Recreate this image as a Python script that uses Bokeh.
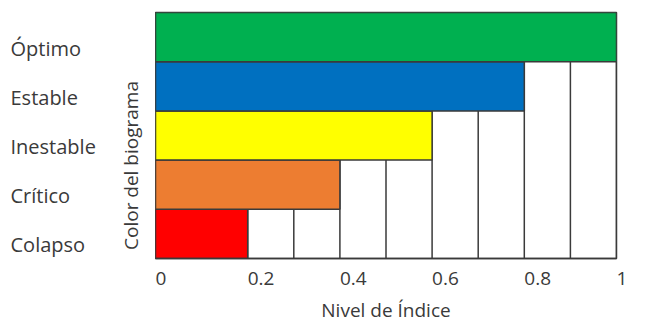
import math
from bokeh.plotting import figure
from bokeh.layouts import row
from bokeh.models import ColumnDataSource, Range1d, FixedTicker
from bokeh.core.properties import value
from bokeh.embed import file_html
from bokeh.resources import INLINE

# ---- data ----
categories = ["Colapso", "Crítico", "Inestable", "Estable", "Óptimo"]
levels = [0.2, 0.4, 0.6, 0.8, 1.0]
colors = ["#FF0000", "#ED7D31", "#FFFF00", "#0070C0", "#00B050"]
tick_values = [0, 0.2, 0.4, 0.6, 0.8, 1.0]
tick_labels = ["0", "0.2", "0.4", "0.6", "0.8", "1"]
cell_step = 0.1
x_title = "Nivel de Índice"
y_title = "Color del biograma"

FONT = "Open Sans"
TXT = "#3a3a3a"
EDGE = "#3a3a3a"
FRAME_H = 246
TOP = 12
BOTTOM = 51
LEFT_W = 155

# ---- main plot ----
p = figure(frame_width=461, frame_height=FRAME_H, output_backend="svg", toolbar_location=None,
           x_range=Range1d(0, 1), y_range=Range1d(0, len(categories)),
           y_axis_location=None,
           min_border_left=0, min_border_right=14, min_border_top=TOP, min_border_bottom=BOTTOM)
p.xgrid.visible = False
p.ygrid.visible = False
p.outline_line_color = EDGE
p.outline_line_width = 1.5

ax = p.xaxis[0]
ax.ticker = FixedTicker(ticks=tick_values)
ax.major_label_overrides = {v: t for v, t in zip(tick_values, tick_labels)}
ax.major_label_orientation = -1e-4
ax.major_tick_out = 0
ax.major_tick_in = 0
ax.minor_tick_out = 0
ax.minor_tick_in = 0
ax.axis_line_color = EDGE
ax.axis_line_width = 1.5
ax.major_label_standoff = 20
ax.major_label_text_font = FONT
ax.major_label_text_font_size = "19px"
ax.major_label_text_color = TXT
ax.axis_label = x_title
ax.axis_label_standoff = 2
ax.axis_label_text_font = FONT
ax.axis_label_text_font_size = "19px"
ax.axis_label_text_font_style = "normal"
ax.axis_label_text_color = TXT

# white cells: vertical lines at each 0.1 boundary, from the bottom up to the first bar covering it
n_cells = int(round(1.0 / cell_step))
sx, sy0, sy1 = [], [], []
for k in range(1, n_cells + 1):
    xb = round(k * cell_step, 6)
    top = len(categories)
    for i, lv in enumerate(levels):
        if lv > xb + 1e-9:
            top = i
            break
    if top > 0:
        sx.append(xb); sy0.append(0); sy1.append(top)
p.segment(x0=sx, x1=sx, y0=sy0, y1=sy1, line_color=EDGE, line_width=1.5)

# coloured bars
rows = [i + 0.5 for i in range(len(categories))]
src = ColumnDataSource(dict(y=rows, right=levels, color=colors, cat=categories))
p.hbar(y="y", left=0, right="right", height=1, fill_color="color",
       line_color=EDGE, line_width=1.5, source=src)

# ---- left label strip (category names, left aligned, and the vertical title) ----
lp = figure(frame_width=LEFT_W, frame_height=FRAME_H, output_backend="svg", toolbar_location=None,
            x_range=Range1d(0, LEFT_W), y_range=p.y_range,
            x_axis_location=None, y_axis_location=None,
            min_border_left=0, min_border_right=0, min_border_top=TOP, min_border_bottom=BOTTOM)
lp.xgrid.visible = False
lp.ygrid.visible = False
lp.outline_line_color = None

lp.text(x=10, y="y", text="cat", source=src, y_offset=11,
        text_align="left", text_baseline="middle",
        text_font=value(FONT), text_font_size="20px", text_color=TXT)
lp.text(x=[130], y=[len(categories) / 2], text=[y_title], y_offset=30, angle=math.pi / 2,
        text_align="center", text_baseline="middle",
        text_font=value(FONT), text_font_size="19px", text_color=TXT)

layout = row(lp, p, spacing=0)
open("out.html", "w").write(file_html(layout, INLINE))
